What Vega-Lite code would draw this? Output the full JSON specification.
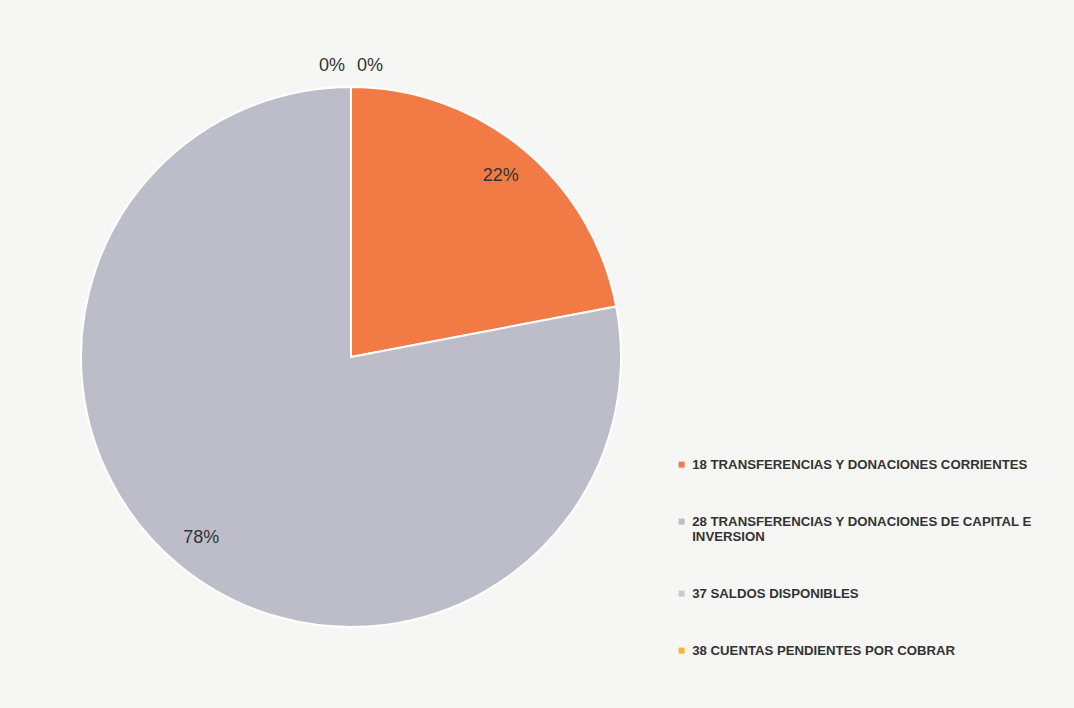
{
  "$schema": "https://vega.github.io/schema/vega-lite/v6.json",
  "autosize": {"type": "none"},
  "width": 540,
  "height": 540,
  "padding": {"left": 81, "top": 87, "right": 453, "bottom": 81},
  "background": "#F6F6F5",
  "view": {"stroke": null},
  "data": {
    "values": [
      {"cuenta": "18 TRANSFERENCIAS Y DONACIONES CORRIENTES", "valor": 0.22},
      {"cuenta": "28 TRANSFERENCIAS Y DONACIONES DE CAPITAL E INVERSION", "valor": 0.78},
      {"cuenta": "37 SALDOS DISPONIBLES", "valor": 0.0},
      {"cuenta": "38 CUENTAS PENDIENTES POR COBRAR", "valor": 0.0}
    ]
  },
  "encoding": {
    "theta": {"field": "valor", "type": "quantitative", "stack": true},
    "order": {"field": "cuenta", "type": "nominal", "sort": "ascending"}
  },
  "layer": [
    {
      "mark": {"type": "arc", "stroke": "white", "strokeWidth": 2},
      "encoding": {
        "color": {
          "field": "cuenta",
          "type": "nominal",
          "scale": {
            "domain": [
              "18 TRANSFERENCIAS Y DONACIONES CORRIENTES",
              "28 TRANSFERENCIAS Y DONACIONES DE CAPITAL E INVERSION",
              "37 SALDOS DISPONIBLES",
              "38 CUENTAS PENDIENTES POR COBRAR"
            ],
            "range": ["#F27B45", "#BDBDC9", "#C9C9D2", "#F9B531"]
          },
          "legend": {
            "title": null,
            "orient": "none",
            "legendX": 594,
            "legendY": 371,
            "symbolType": "square",
            "symbolSize": 36,
            "symbolStrokeWidth": 0,
            "labelFont": "Liberation Sans",
            "labelFontSize": 13.2,
            "labelFontWeight": "bold",
            "labelColor": "#333333",
            "labelLimit": 500,
            "rowPadding": 43,
            "labelOffset": 4,
            "labelExpr": "indexof(datum.label,'28')==0 ? ['28 TRANSFERENCIAS Y DONACIONES DE CAPITAL E','INVERSION'] : datum.label"
          }
        }
      }
    },
    {
      "transform": [{"filter": "datum.valor > 0"}],
      "mark": {"type": "text", "radius": 235, "font": "Liberation Sans", "fontSize": 18, "color": "#333333"},
      "encoding": {"text": {"field": "valor", "type": "quantitative", "format": ".0%"}}
    },
    {
      "transform": [{"filter": "indexof(datum.cuenta,'37')==0"}],
      "mark": {"type": "text", "radius": 291, "dx": -19, "font": "Liberation Sans", "fontSize": 18, "color": "#333333"},
      "encoding": {"text": {"field": "valor", "type": "quantitative", "format": ".0%"}}
    },
    {
      "transform": [{"filter": "indexof(datum.cuenta,'38')==0"}],
      "mark": {"type": "text", "radius": 291, "dx": 19, "font": "Liberation Sans", "fontSize": 18, "color": "#333333"},
      "encoding": {"text": {"field": "valor", "type": "quantitative", "format": ".0%"}}
    }
  ]
}
